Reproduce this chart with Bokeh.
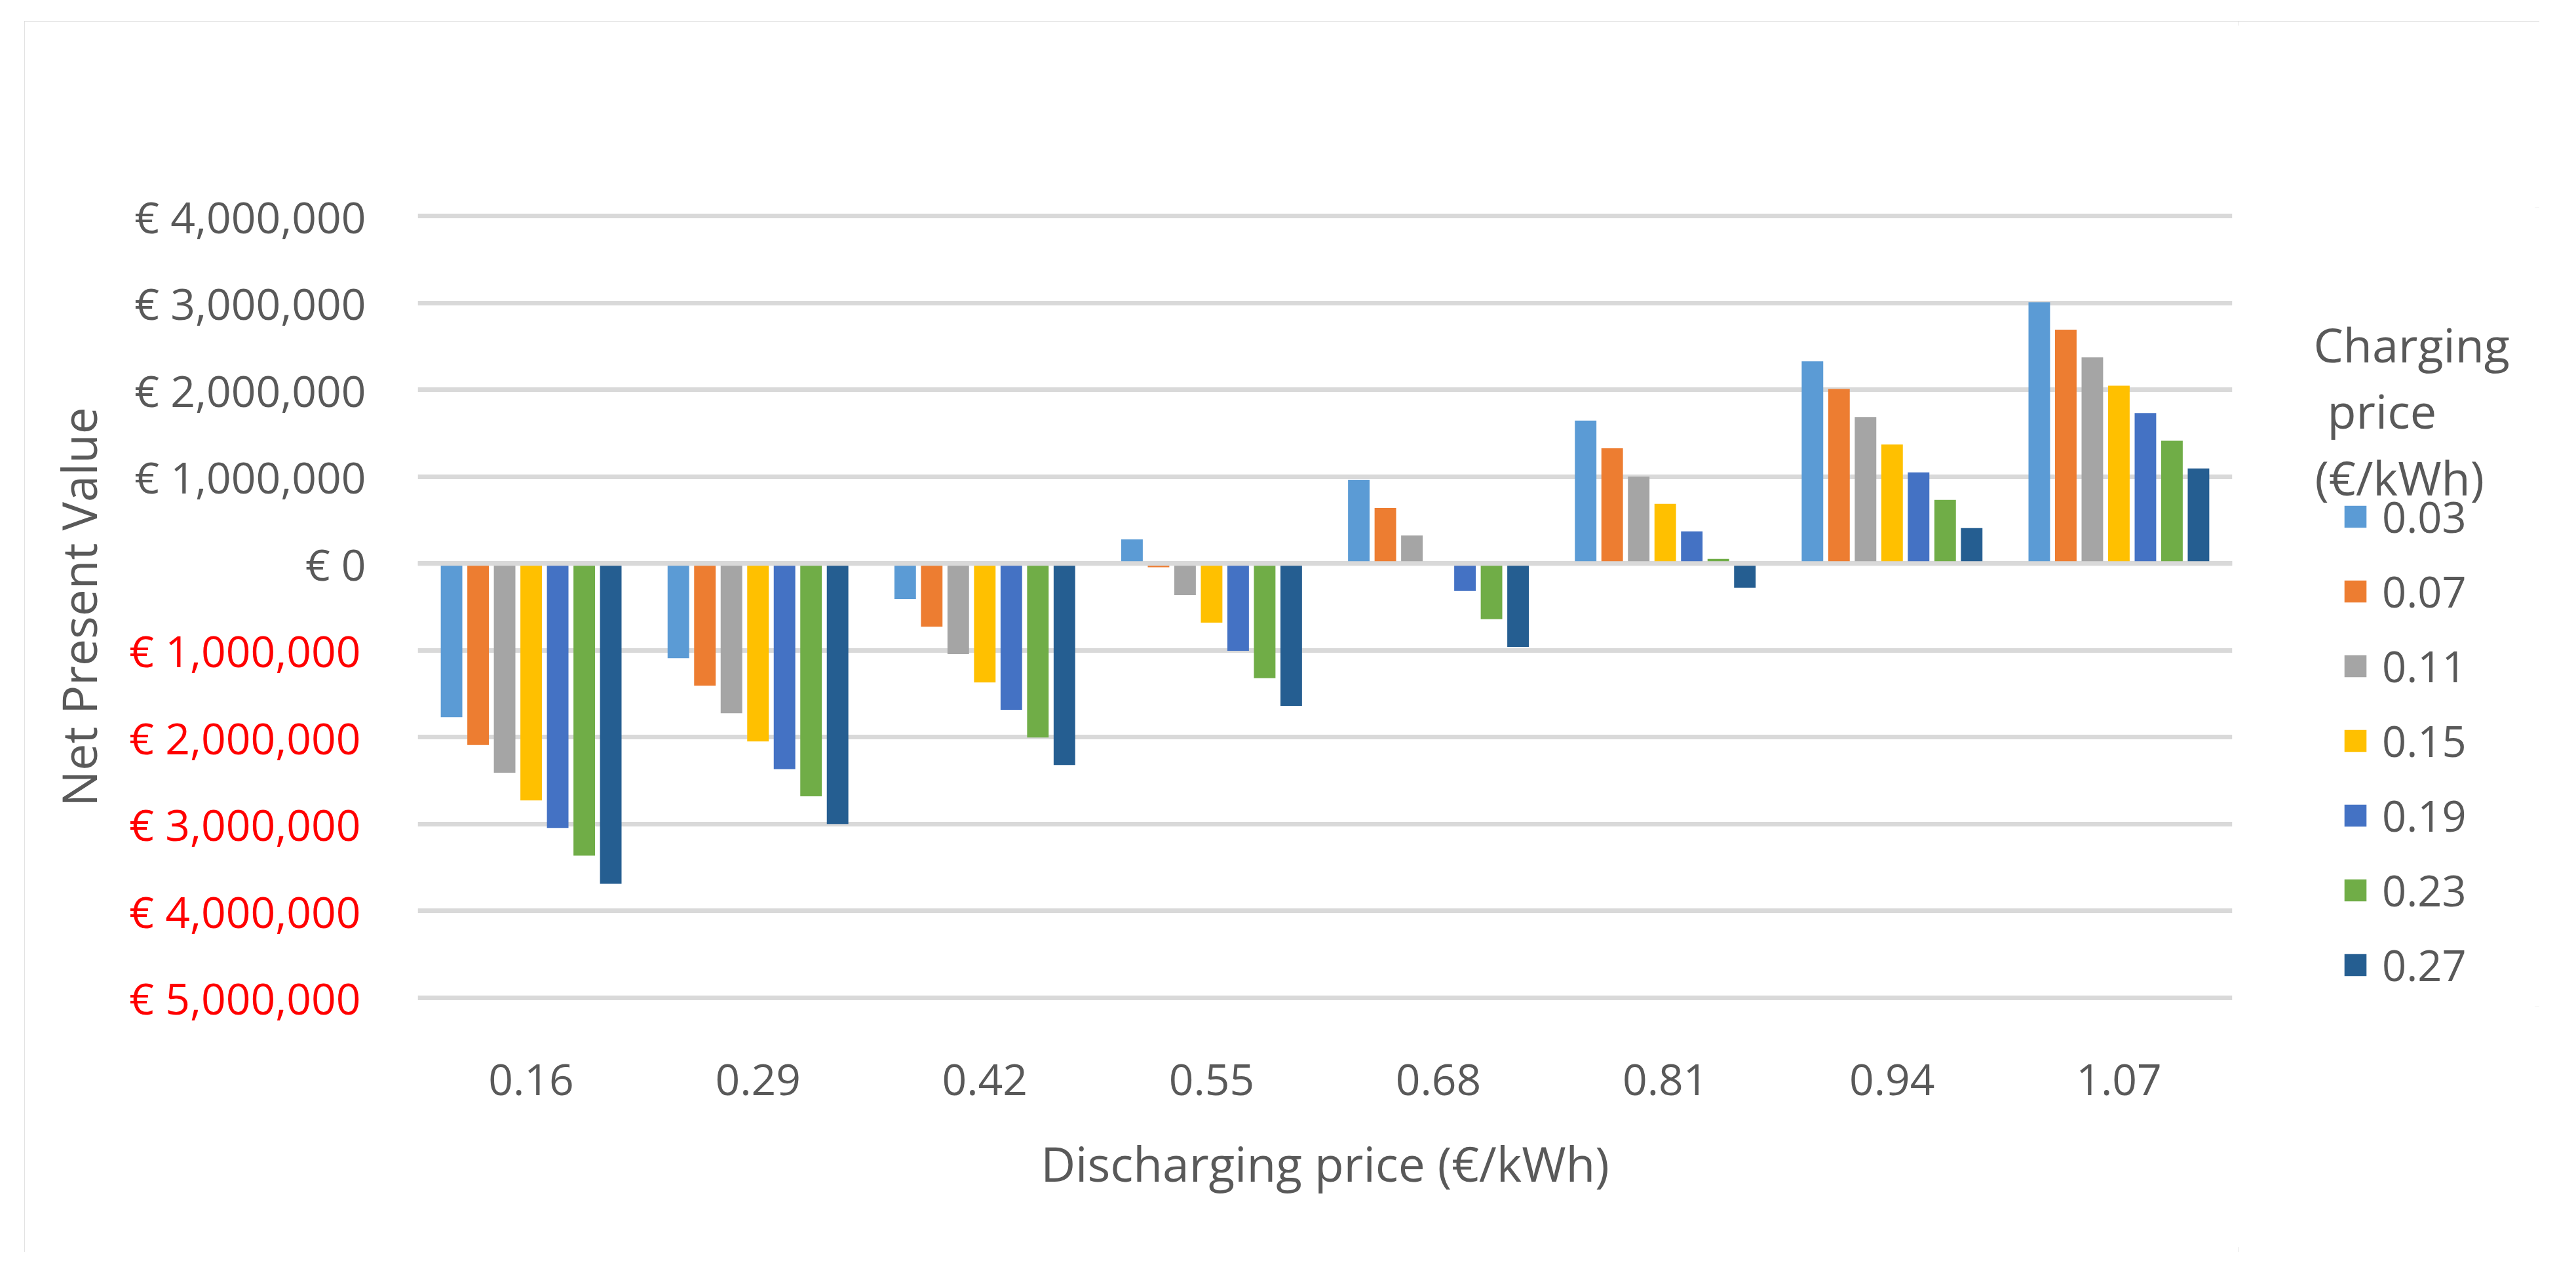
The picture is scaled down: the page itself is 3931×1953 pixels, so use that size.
from bokeh.plotting import figure
from bokeh.layouts import row
from bokeh.models import (ColumnDataSource, FactorRange, FixedTicker, Legend, LegendItem,
                          LinearAxis, Span, Range1d, Label)
from bokeh.transform import dodge
from bokeh.embed import file_html
from bokeh.resources import INLINE

# ---------------- data ----------------
discharging_prices = ["0.16", "0.29", "0.42", "0.55", "0.68", "0.81", "0.94", "1.07"]
charging_prices = ["0.03", "0.07", "0.11", "0.15", "0.19", "0.23", "0.27"]

npv_003 = [-1770000, -1090000, -410000, 277000, 965000, 1645000, 2329000, 3008000]
npv_007 = [-2090000, -1408000, -728000, -43000, 640000, 1327000, 2010000, 2692000]
npv_011 = [-2410000, -1725000, -1043000, -364000, 322000, 1000000, 1687000, 2374000]
npv_015 = [-2728000, -2049000, -1370000, -682000, 10000, 687000, 1369000, 2048000]
npv_019 = [-3046000, -2367000, -1685000, -1005000, -317000, 369000, 1050000, 1732000]
npv_023 = [-3364000, -2682000, -2003000, -1320000, -642000, 53000, 732000, 1414000]
npv_027 = [-3688000, -3000000, -2320000, -1640000, -960000, -280000, 408000, 1095000]
series = [npv_003, npv_007, npv_011, npv_015, npv_019, npv_023, npv_027]

y_ticks = [-5000000, -4000000, -3000000, -2000000, -1000000, 0,
           1000000, 2000000, 3000000, 4000000]
y_tick_labels = ["€ {:,}".format(abs(v)) for v in y_ticks]

legend_title_lines = ["Charging", "price", "(€/kWh)"]

colors = ["#5B9BD5", "#ED7D31", "#A5A5A5", "#FFC000", "#4472C4", "#70AD47", "#255E91"]

FONT = "Open Sans"
TXT = "#595959"
GRID = "#D9D9D9"
LABEL_W = 354  # width of one y tick label

TOTAL_W, H = 3838, 1878
MAIN_W = 3379
LEG_W = TOTAL_W - MAIN_W

p = figure(x_range=FactorRange(*discharging_prices), y_range=Range1d(-5100000, 4100000),
           width=MAIN_W, height=H, output_backend="svg", toolbar_location=None,
           min_border_left=600, min_border_right=10, min_border_top=284,
           min_border_bottom=375)
p.outline_line_color = None
p.background_fill_color = "white"
p.border_fill_color = "white"

p.xgrid.grid_line_color = None
p.ygrid.grid_line_color = GRID
p.ygrid.grid_line_width = 7
p.ygrid.ticker = FixedTicker(ticks=y_ticks)

for i, (name, vals) in enumerate(zip(charging_prices, series)):
    src = ColumnDataSource(dict(cat=discharging_prices, v=vals))
    p.vbar(x=dodge("cat", (i - 3) * 0.117, range=p.x_range), top="v", bottom=0,
           width=0.095, source=src, fill_color=colors[i], line_color=None)

p.add_layout(Span(location=0, dimension="width", line_color=GRID, line_width=7,
                  level="overlay"))

pos_ticks = [v for v in y_ticks if v >= 0]
neg_ticks = [v for v in y_ticks if v < 0]


def style_axis(ax):
    ax.major_label_text_font = FONT
    ax.major_label_text_font_size = "66px"
    ax.major_tick_line_color = None
    ax.minor_tick_line_color = None
    ax.axis_line_color = None
    ax.axis_label_text_font = FONT
    ax.axis_label_text_font_size = "73px"
    ax.axis_label_text_font_style = "normal"
    ax.axis_label_text_color = TXT


# y axis: non-negative values in grey (inner axis)
ya = p.yaxis[0]
style_axis(ya)
ya.ticker = FixedTicker(ticks=pos_ticks)
ya.major_label_overrides = {int(v): lab for v, lab in zip(y_ticks, y_tick_labels) if v >= 0}
ya.major_label_text_color = TXT
ya.major_label_standoff = 73

# y axis: negative values in red (outer axis, pulled in over the inner one)
yb = LinearAxis(ticker=FixedTicker(ticks=neg_ticks))
style_axis(yb)
yb.major_label_overrides = {int(v): lab for v, lab in zip(y_ticks, y_tick_labels) if v < 0}
yb.major_label_text_color = "#FF0000"
yb.major_label_standoff = -LABEL_W
yb.axis_label = "Net Present Value"
yb.axis_label_standoff = 25
p.add_layout(yb, "left")

# x axis
xa = p.xaxis[0]
style_axis(xa)
xa.major_label_text_color = TXT
xa.major_label_standoff = 82
xa.axis_label = "Discharging price (€/kWh)"
xa.axis_label_standoff = 51

# ---------------- legend panel (frame aligned with the main plot frame) ----------------
lf = figure(width=LEG_W, height=H, x_range=Range1d(0, 1), y_range=Range1d(0, 1),
            output_backend="svg", toolbar_location=None, x_axis_type=None,
            y_axis_type=None, min_border=0)
lf.outline_line_color = None
lf.background_fill_color = "white"
lf.border_fill_color = "white"

# zero-size proxy renderers (outside the view) that only supply the legend swatches
swatches = []
for c in colors:
    swatches.append(lf.vbar(x=[-1], top=[0], bottom=[0], width=0, fill_color=c,
                            line_color=None))

legend = Legend(items=[LegendItem(label=n, renderers=[r]) for n, r in zip(charging_prices, swatches)],
                location=(157, 19), padding=0, margin=0, border_line_color=None,
                background_fill_alpha=0, glyph_width=42, glyph_height=42, label_height=42,
                label_standoff=20, spacing=26,
                label_text_font=FONT, label_text_font_size="65px", label_text_color=TXT)
lf.add_layout(legend)

title_x = [114, 135, 116]
title_y = [1011, 910, 808]
for t, x, y in zip(legend_title_lines, title_x, title_y):
    lf.add_layout(Label(x=x, y=y, x_units="screen", y_units="screen", text=t,
                        text_font=FONT, text_font_size="72px", text_color=TXT,
                        text_align="left", text_baseline="alphabetic"))

layout = row(p, lf)
layout.margin = (32, 0, 0, 37)
layout.styles = {"outline": "7px solid #D9D9D9", "outline-offset": "-7px"}

with open("out.html", "w") as f:
    f.write(file_html(layout, INLINE))
